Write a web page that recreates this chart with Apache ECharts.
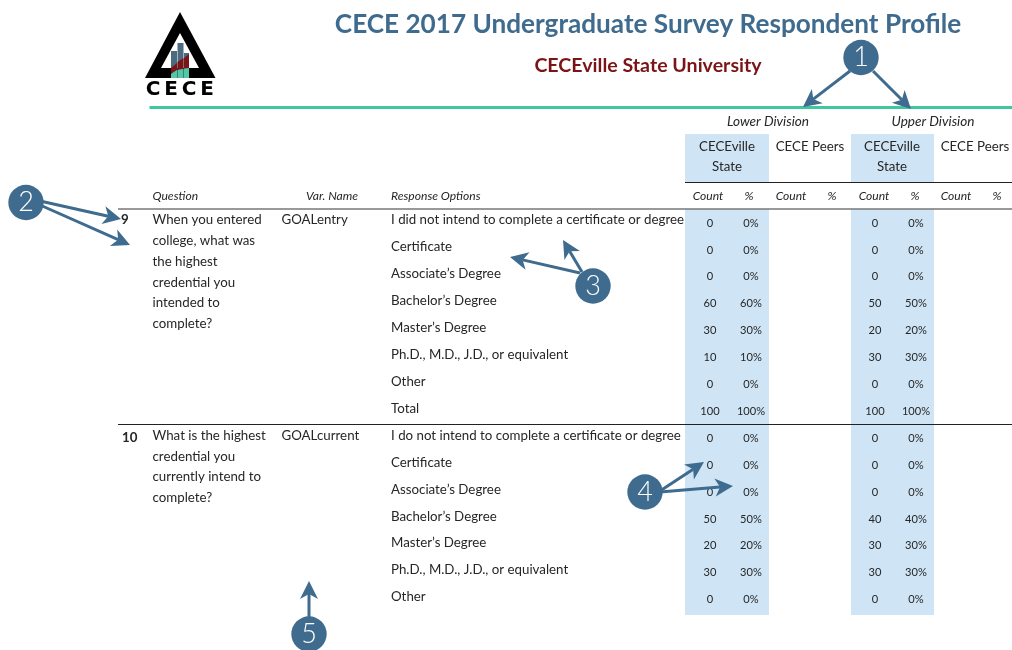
<!DOCTYPE html>
<html><head><meta charset="utf-8">
<style>html,body{margin:0;padding:0;background:#fff}#c{width:1012px;height:650px}</style>
<script src="https://cdn.jsdelivr.net/npm/echarts@6/dist/echarts.min.js"></script>
</head><body><div id="c"></div>
<script>
// ---------- data ----------
const titleText = 'CECE 2017 Undergraduate Survey Respondent Profile';
const subtitleText = 'CECEville State University';
const divisions = ['Lower Division', 'Upper Division'];
const groups = ['CECEville\nState', 'CECE Peers'];
const measures = ['Count', '%'];
const columnHeads = ['Question', 'Var. Name', 'Response Options'];
const q9Number = '9';
const q9Var = 'GOALentry';
const q9Lines = ['When you entered', 'college, what was', 'the highest', 'credential you', 'intended to', 'complete?'];
const q9Options = ['I did not intend to complete a certificate or degree', 'Certificate', 'Associate\u2019s Degree', "Bachelor\u2019s Degree", "Master\u2019s Degree", 'Ph.D., M.D., J.D., or equivalent', 'Other', 'Total'];
const q9LowerCount = [0, 0, 0, 60, 30, 10, 0, 100];
const q9LowerPct = [0, 0, 0, 60, 30, 10, 0, 100];
const q9UpperCount = [0, 0, 0, 50, 20, 30, 0, 100];
const q9UpperPct = [0, 0, 0, 50, 20, 30, 0, 100];
const q10Number = '10';
const q10Var = 'GOALcurrent';
const q10Lines = ['What is the highest', 'credential you', 'currently intend to', 'complete?'];
const q10Options = ['I do not intend to complete a certificate or degree', 'Certificate', 'Associate\u2019s Degree', "Bachelor\u2019s Degree", "Master\u2019s Degree", 'Ph.D., M.D., J.D., or equivalent', 'Other'];
const q10LowerCount = [0, 0, 0, 50, 20, 30, 0];
const q10LowerPct = [0, 0, 0, 50, 20, 30, 0];
const q10UpperCount = [0, 0, 0, 40, 30, 30, 0];
const q10UpperPct = [0, 0, 0, 40, 30, 30, 0];

// ---------- layout ----------
const FONT = 'Lato';
const INK = '#262626', BLUE = '#3e6b8e', BAND = '#cfe5f6';
const BODY = 13.3, HEAD = 12.1, VALUE = 11.1;
const texts = [];
function T(x, y, s, o) { texts.push([x, y, String(s), (o && o.align) || 'left', (o && o.size) || BODY, (o && o.style) || 'normal', (o && o.weight) || 'normal', (o && o.color) || INK]); }

T(648, 25, titleText, {align:'center', size:26.15, weight:'bold', color:BLUE});
T(648, 65.5, subtitleText, {align:'center', size:19.6, weight:'bold', color:'#7b1416'});

[768, 933].forEach((x, i) => T(x, 121.5, divisions[i], {align:'center', size:13.6, style:'italic'}));
[727, 892].forEach(x => {
  const p = groups[0].split('\n');
  T(x, 146.5, p[0], {align:'center'}); T(x, 167, p[1], {align:'center'});
});
[810, 975].forEach(x => T(x, 146.5, groups[1], {align:'center'}));
[708, 791, 874, 956].forEach(x => T(x, 196, measures[0], {align:'center', size:HEAD, style:'italic'}));
[749, 832, 915, 997].forEach(x => T(x, 196, measures[1], {align:'center', size:HEAD, style:'italic'}));
T(152.5, 196, columnHeads[0], {size:HEAD, style:'italic'});
T(306, 196, columnHeads[1], {size:HEAD, style:'italic'});
T(391, 196, columnHeads[2], {size:HEAD, style:'italic'});

function block(top, valTop, step, num, numX, vname, lines, opts, lc, lp, uc, up, numY) {
  T(numX, numY, num, {weight:'bold'});
  T(281.5, top, vname);
  lines.forEach((s, i) => T(152.5, top + i * 20.75, s));
  opts.forEach((s, i) => T(391, top + i * step, s));
  lc.forEach((v, i) => {
    const y = valTop + i * step;
    T(710, y, v, {align:'center', size:VALUE});
    T(751, y, lp[i] + '%', {align:'center', size:VALUE});
    T(875, y, uc[i], {align:'center', size:VALUE});
    T(916, y, up[i] + '%', {align:'center', size:VALUE});
  });
}
block(220.2, 223, 26.95, q9Number, 121, q9Var, q9Lines, q9Options, q9LowerCount, q9LowerPct, q9UpperCount, q9UpperPct, 220);
block(435.7, 438.5, 26.85, q10Number, 122, q10Var, q10Lines, q10Options, q10LowerCount, q10LowerPct, q10UpperCount, q10UpperPct, 438);

const bandRects = [[685, 134, 769, 182], [851, 134, 934, 182], [685, 209, 769, 615], [851, 209, 934, 615]];
const ruleLines = [[149.5, 107.5, 1012, 3, '#3fc7a0'], [685, 182.5, 1012, 1, '#222'], [118, 209, 1012, 1.6, '#777'], [118, 424.5, 1012, 1, '#222']];

// ---------- annotations ----------
function arrow(x1, y1, x2, y2) {
  const a = Math.atan2(y2 - y1, x2 - x1), L = 18, W = 9, N = 13;
  const ca = Math.cos(a), sa = Math.sin(a);
  const bx = x2 - L * ca, by = y2 - L * sa, nx = x2 - N * ca, ny = y2 - N * sa;
  return [
    {type:'line', shape:{x1, y1, x2:nx, y2:ny}, style:{stroke:BLUE, lineWidth:3}, z:20},
    {type:'polygon', shape:{points:[[x2,y2],[bx - W*sa, by + W*ca],[nx,ny],[bx + W*sa, by - W*ca]]}, style:{fill:BLUE}, z:20}
  ];
}
function badge(x, y, s) {
  return [
    {type:'circle', shape:{cx:x, cy:y, r:17.7}, style:{fill:BLUE}, z:21},
    {type:'text', x, y, style:{text:s, fill:'#fff', font:'300 27px Lato', align:'center', verticalAlign:'middle'}, z:22}
  ];
}
const notes = [
  ...arrow(850, 71, 803, 107), ...arrow(873, 71, 911, 109), ...badge(861, 57.5, '1'),
  ...arrow(40, 201, 121, 219), ...arrow(40, 205, 130, 245), ...badge(26, 202.5, '2'),
  ...arrow(582, 272, 563, 240), ...arrow(580, 273, 510, 257), ...badge(593, 286, '3'),
  ...arrow(660, 491, 704, 462), ...arrow(660, 492, 733, 486), ...badge(645, 492, '4'),
  ...arrow(309, 620, 309, 581), ...badge(309, 634, '5')
];
const logo = [
  {type:'polygon', shape:{points:[[180,12],[215.5,78],[145,78]]}, style:{fill:'#000'}},
  {type:'polygon', shape:{points:[[180,33],[199,68],[161,68]]}, style:{fill:'#fff'}},
  {type:'rect', shape:{x:171,y:51,width:6,height:27}, style:{fill:'#4d6b80'}},
  {type:'rect', shape:{x:177.5,y:43,width:6,height:35}, style:{fill:'#4d6b80'}},
  {type:'rect', shape:{x:184,y:53,width:5,height:25}, style:{fill:'#4d6b80'}},
  {type:'polygon', shape:{points:[[171,68],[177,63],[177,70],[171,74]]}, style:{fill:'#7b1416'}},
  {type:'polygon', shape:{points:[[177.5,62],[183.5,58],[183.5,68.5],[177.5,70]]}, style:{fill:'#7b1416'}},
  {type:'polygon', shape:{points:[[184,58],[189,54],[189,68],[184,68]]}, style:{fill:'#7b1416'}},
  {type:'polygon', shape:{points:[[171,74],[177,70],[177,78],[171,78]]}, style:{fill:'#52c9a6'}},
  {type:'polygon', shape:{points:[[177.5,70],[183.5,69],[183.5,78],[177.5,78]]}, style:{fill:'#52c9a6'}},
  {type:'polygon', shape:{points:[[184,69],[189,68],[189,78],[184,78]]}, style:{fill:'#52c9a6'}},
  ...['C','E','C','E'].map((c, i) => ({type:'text', x:[153,171,189,207][i], y:89.5, style:{text:c, fill:'#000', font:'bold 20px "DejaVu Sans"', align:'center', verticalAlign:'middle'}}))
];

// ---------- chart ----------
const chart = echarts.init(document.getElementById('c'), null, {renderer:'canvas'});
chart.setOption({
  animation:false,
  backgroundColor:'#fff',
  grid:{left:0, right:0, top:0, bottom:0, containLabel:false},
  xAxis:{type:'value', min:0, max:1012, show:false},
  yAxis:{type:'value', min:0, max:650, inverse:true, show:false},
  series:[
    {type:'custom', coordinateSystem:'cartesian2d', z:1, silent:true, data:bandRects,
      renderItem(p, api){ const a = api.coord([api.value(0), api.value(1)]), b = api.coord([api.value(2), api.value(3)]);
        return {type:'rect', shape:{x:a[0], y:a[1], width:b[0]-a[0], height:b[1]-a[1]}, style:{fill:BAND}}; }},
    {type:'custom', coordinateSystem:'cartesian2d', z:2, silent:true, data:ruleLines,
      renderItem(p, api){ const d = ruleLines[p.dataIndex], a = api.coord([d[0], d[1]]), b = api.coord([d[2], d[1]]);
        return {type:'line', shape:{x1:a[0], y1:a[1], x2:b[0], y2:b[1]}, style:{stroke:d[4], lineWidth:d[3]}}; }},
    {type:'custom', coordinateSystem:'cartesian2d', z:3, silent:true, data:texts.map(t => [t[0], t[1]]),
      renderItem(p, api){ const t = texts[p.dataIndex], a = api.coord([t[0], t[1]]);
        return {type:'text', x:a[0], y:a[1], style:{text:t[2], fill:t[7], align:t[3], verticalAlign:'middle', font:`${t[5]} ${t[6]} ${t[4]}px ${FONT}`}}; }}
  ],
  graphic:{elements:[...logo, ...notes]}
});
</script></body></html>
